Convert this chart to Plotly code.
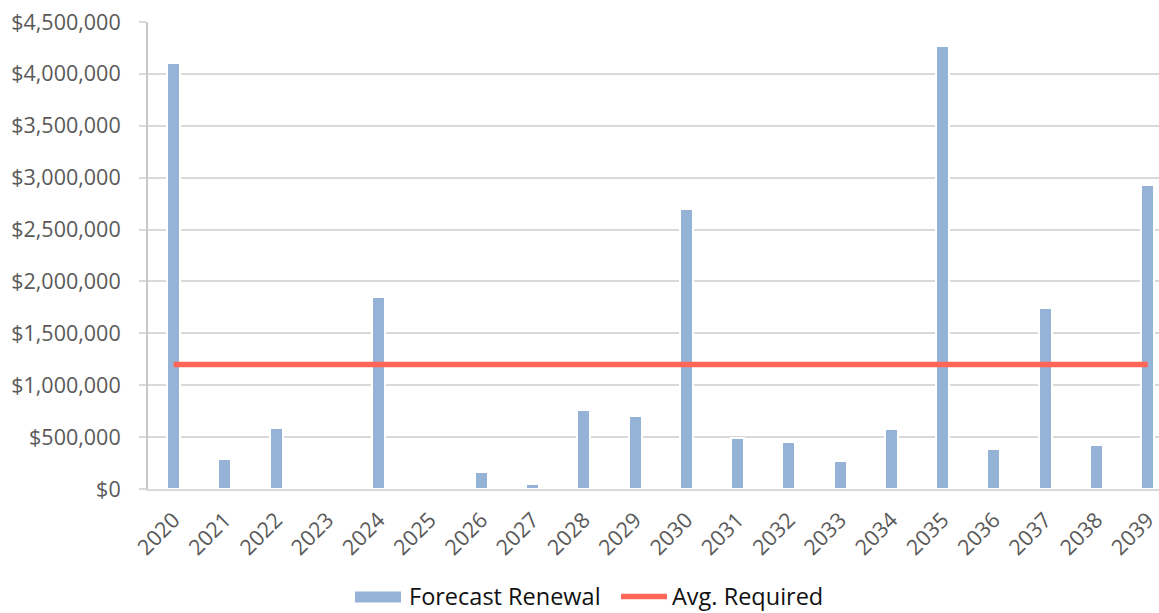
import plotly.graph_objects as go

# Renewal forecast by year
years = ["2020", "2021", "2022", "2023", "2024", "2025", "2026", "2027", "2028", "2029",
         "2030", "2031", "2032", "2033", "2034", "2035", "2036", "2037", "2038", "2039"]
forecast_renewal = [4108000, 286000, 590000, 0, 1851000, 0, 162000, 44000, 766000, 701000,
                    2697000, 495000, 456000, 266000, 574000, 4266000, 387000, 1740000, 423000, 2925000]
avg_required = [1200000] * len(years)

y_ticks = list(range(0, 4500001, 500000))

BAR_COLOR = "#95B3D7"
LINE_COLOR = "#FF6657"
FONT = "Open Sans"

fig = go.Figure()

fig.add_trace(go.Bar(
    x=years, y=forecast_renewal, name="Forecast Renewal",
    marker=dict(color=BAR_COLOR, line=dict(color="white", width=2)),
    width=0.254, showlegend=False,
))

fig.add_trace(go.Scatter(
    x=years, y=avg_required, name="Avg. Required", mode="lines",
    line=dict(color=LINE_COLOR, width=5.5), showlegend=False,
))

# Legend drawn along the bottom edge
plot_w = 1159 - 148
plot_h = 467.5


def px(x):
    return (x - 148) / plot_w


def py(y):
    return (489.5 - y) / plot_h


legend_y = py(597)

fig.add_shape(type="rect", xref="paper", yref="paper",
              x0=px(355), x1=px(401), y0=py(603), y1=py(592),
              fillcolor=BAR_COLOR, line=dict(width=0))
fig.add_shape(type="line", xref="paper", yref="paper",
              x0=px(621), x1=px(667), y0=legend_y, y1=legend_y,
              line=dict(color=LINE_COLOR, width=5.5))
fig.add_annotation(text="Forecast Renewal", xref="paper", yref="paper",
                   x=px(407), y=legend_y, xanchor="left", yanchor="middle",
                   showarrow=False, font=dict(family=FONT, size=23.5, color="#111111"))
fig.add_annotation(text="Avg. Required", xref="paper", yref="paper",
                   x=px(670), y=legend_y, xanchor="left", yanchor="middle",
                   showarrow=False, font=dict(family=FONT, size=23.5, color="#111111"))

fig.update_layout(
    width=1159, height=613,
    margin=dict(l=148, r=0, t=22, b=123.5),
    paper_bgcolor="white", plot_bgcolor="white",
    font=dict(family=FONT, color="#595959"),
    bargap=0,
)

fig.update_xaxes(
    type="category", range=[-0.5, 19.22],
    tickangle=-45, tickfont=dict(family=FONT, size=21.5, color="#595959"),
    showgrid=False, showline=True, linecolor="#D9D9D9", linewidth=2,
    ticks="", ticklabelstandoff=8,
)

fig.update_yaxes(
    range=[0, 4500000], tickvals=y_ticks, tickformat="$,.0f",
    tickfont=dict(family=FONT, size=21.5, color="#595959"),
    showgrid=True, gridcolor="#D9D9D9", gridwidth=2,
    showline=True, linecolor="#C8C8C8", linewidth=2,
    ticks="outside", ticklen=7, tickcolor="#D9D9D9", tickwidth=2,
    ticklabelstandoff=14, zeroline=False,
)

fig.write_html("out.html")
